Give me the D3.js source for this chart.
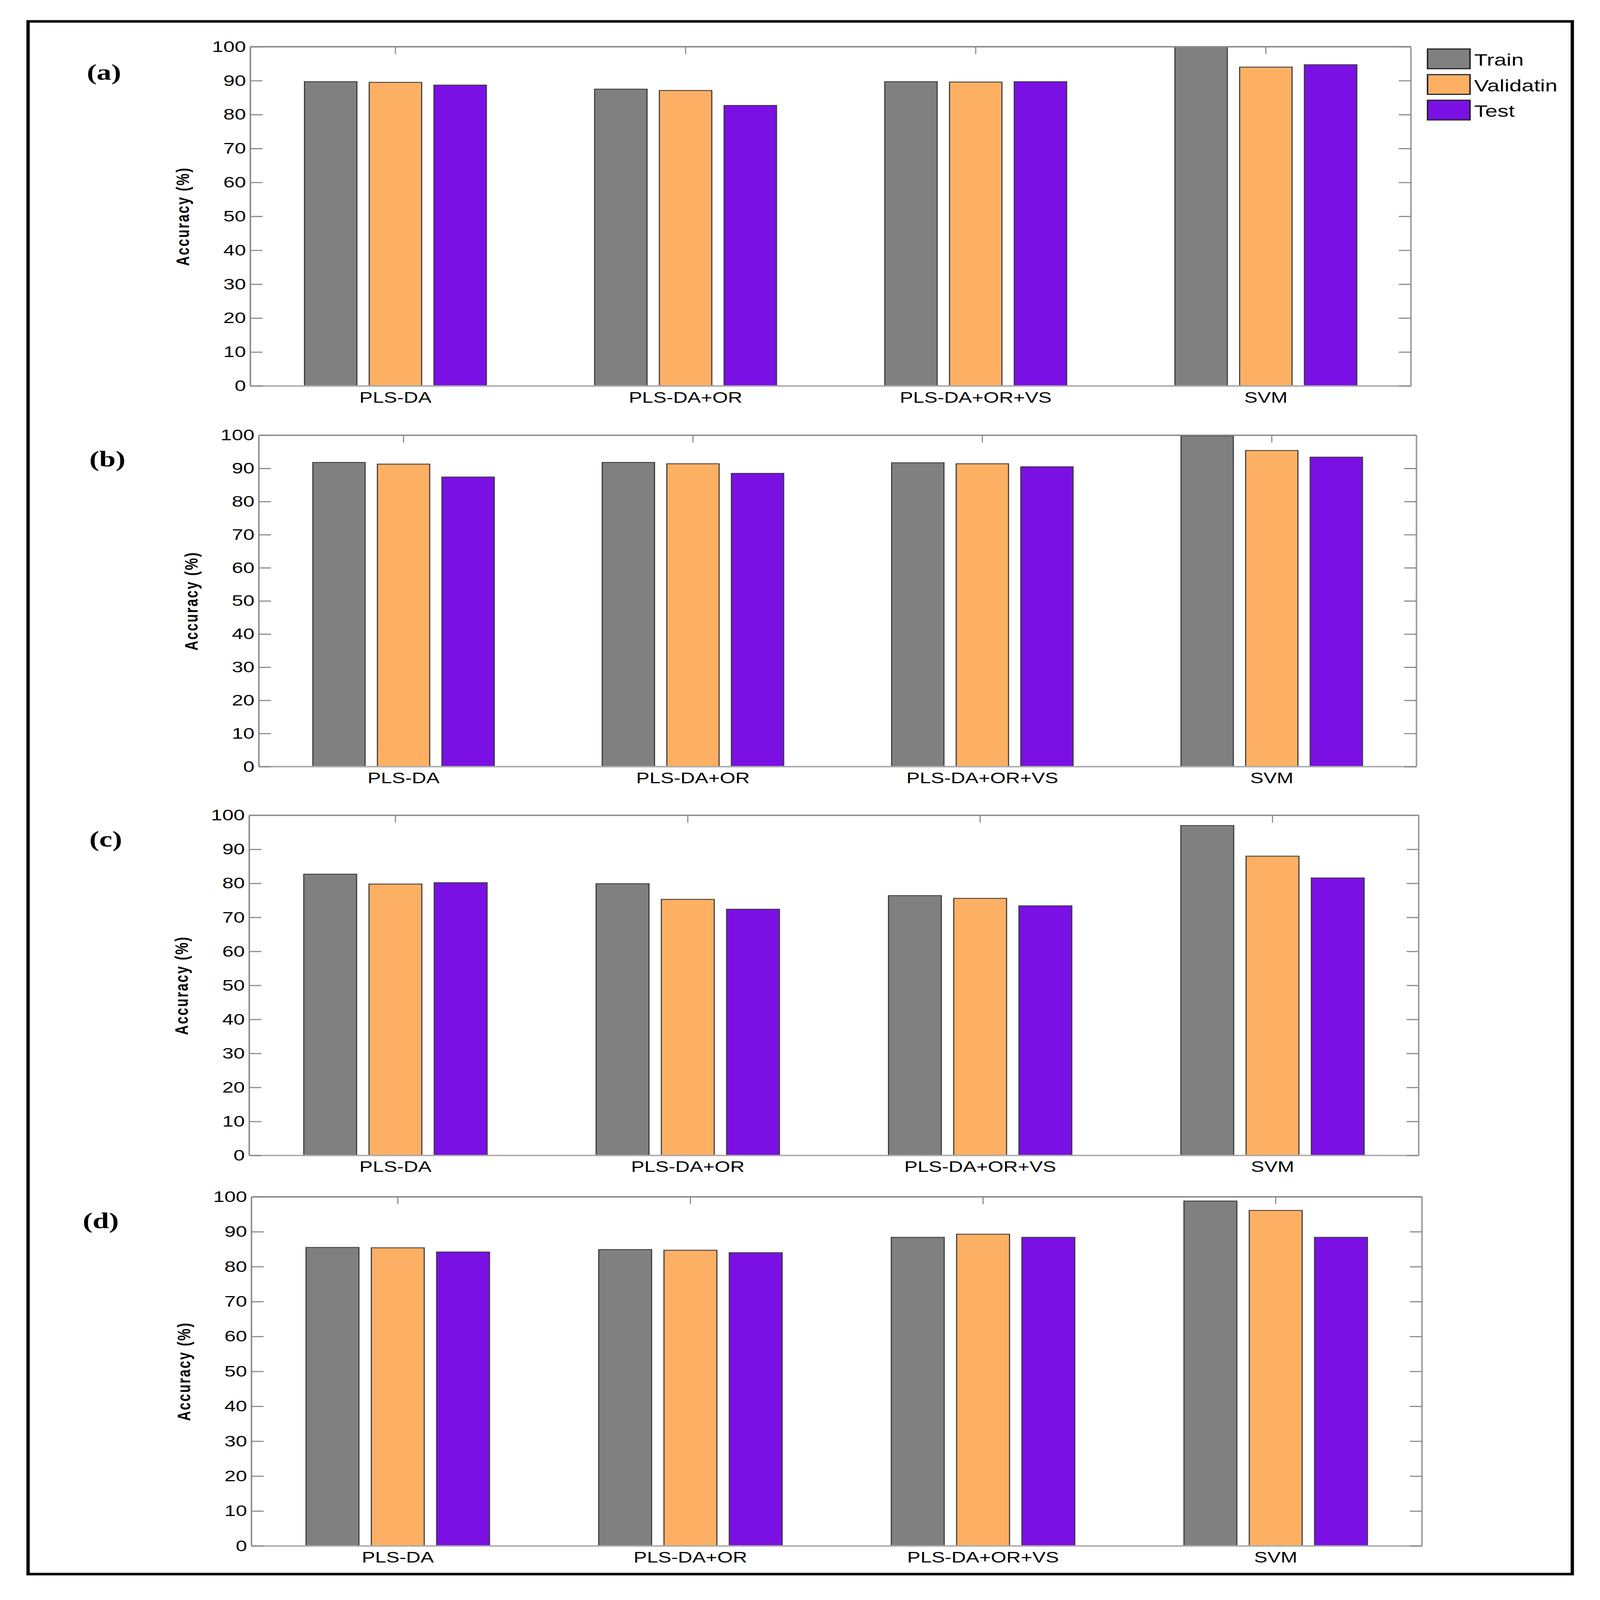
<!DOCTYPE html>
<html>
<head>
<meta charset="utf-8">
<script src="https://cdn.jsdelivr.net/npm/d3@7"></script>
<style>
  html, body { margin: 0; padding: 0; background: #fff; width: 100%; height: 100%; overflow: hidden; }
  #plot { width: 100vw; height: 100vh; }
  svg { display: block; }
</style>
</head>
<body>
<div id="plot"></div>
<script>
// data
const categories = ["PLS-DA", "PLS-DA+OR", "PLS-DA+OR+VS", "SVM"];
const seriesNames = ["Train", "Validatin", "Test"];
const yTicks = [0, 10, 20, 30, 40, 50, 60, 70, 80, 90, 100];

const trainA = [89.7, 87.5, 89.7, 100];
const validA = [89.5, 87.1, 89.6, 94.0];
const testA  = [88.7, 82.7, 89.7, 94.7];

const trainB = [91.8, 91.8, 91.7, 99.8];
const validB = [91.3, 91.4, 91.4, 95.4];
const testB  = [87.4, 88.5, 90.5, 93.4];

const trainC = [82.7, 79.9, 76.4, 97.0];
const validC = [79.8, 75.3, 75.6, 88.0];
const testC  = [80.2, 72.4, 73.4, 81.6];

const trainD = [85.5, 84.9, 88.4, 98.8];
const validD = [85.4, 84.7, 89.3, 96.1];
const testD  = [84.2, 84.0, 88.4, 88.4];

const panelLabels = ["(a)", "(b)", "(c)", "(d)"];

// drawing size (scaled to the window through the viewBox)
const w = 4333;
const h = 5683;
const colors = ["#808080", "#FDB064", "#7A10E3"];

// plot boxes of the four panels
const panels = [
  {left: 678, right: 3821, top: 166,  bottom: 1371, labX: 235, labDy: 117, data: [trainA, validA, testA]},
  {left: 701, right: 3836, top: 1546, bottom: 2723, labX: 242, labDy: 110, data: [trainB, validB, testB]},
  {left: 675, right: 3842, top: 2896, bottom: 4104, labX: 242, labDy: 110, data: [trainC, validC, testC]},
  {left: 681, right: 3851, top: 4251, bottom: 5491, labX: 224, labDy: 111, data: [trainD, validD, testD]}
];

const svg = d3.select("div#plot")
  .append("svg")
    .attr("viewBox", `0 0 ${w} ${h}`)
    .attr("preserveAspectRatio", "none")
    .attr("width", "100%")
    .attr("height", "100%");

svg.append("rect")
  .attr("width", w)
  .attr("height", h)
  .attr("fill", "white");

// outer frame
svg.append("rect")
  .attr("x", 76)
  .attr("y", 76)
  .attr("width", 4182)
  .attr("height", 5515)
  .attr("fill", "none")
  .attr("stroke", "black")
  .attr("stroke-width", 9);

panels.forEach(function (p, i) {
  const g = svg.append("g").attr("class", "panel");

  const xScale = d3.scaleBand()
    .domain(categories)
    .range([p.left, p.right])
    .padding(0);

  const bw = xScale.bandwidth();
  const xSub = d3.scaleBand()
    .domain(seriesNames)
    .range([-0.3135 * bw, 0.3135 * bw])
    .paddingInner(0.19);

  const yScale = d3.scaleLinear()
    .domain([0, 100])
    .range([p.bottom, p.top]);

  // bottom ticks (hidden behind bars like in the original)
  g.selectAll("line.btick")
    .data(categories)
    .enter()
    .append("line")
    .attr("x1", d => xScale(d) + bw / 2)
    .attr("x2", d => xScale(d) + bw / 2)
    .attr("y1", p.bottom)
    .attr("y2", p.bottom - 26)
    .attr("stroke", "#888")
    .attr("stroke-width", 3);

  // bars
  seriesNames.forEach(function (s, si) {
    g.selectAll("rect.s" + si)
      .data(p.data[si])
      .enter()
      .append("rect")
      .attr("class", "s" + si)
      .attr("x", (d, ci) => xScale(categories[ci]) + bw / 2 + xSub(s))
      .attr("y", d => yScale(d))
      .attr("width", xSub.bandwidth())
      .attr("height", d => p.bottom - yScale(d))
      .attr("fill", colors[si])
      .attr("stroke", "#3a3a3a")
      .attr("stroke-width", 3);
  });

  // box
  g.append("line")
    .attr("x1", p.left).attr("x2", p.right)
    .attr("y1", p.top).attr("y2", p.top)
    .attr("stroke", "#8a8a8a").attr("stroke-width", 5);
  g.append("line")
    .attr("x1", p.right).attr("x2", p.right)
    .attr("y1", p.top).attr("y2", p.bottom)
    .attr("stroke", "#999").attr("stroke-width", 4);
  g.append("line")
    .attr("x1", p.left).attr("x2", p.right)
    .attr("y1", p.bottom).attr("y2", p.bottom)
    .attr("stroke", "#aaa").attr("stroke-width", 5);
  g.append("line")
    .attr("x1", p.left).attr("x2", p.left)
    .attr("y1", p.top).attr("y2", p.bottom)
    .attr("stroke", "#8a8a8a").attr("stroke-width", 4);

  // top ticks at categories
  g.selectAll("line.ttick")
    .data(categories)
    .enter()
    .append("line")
    .attr("x1", d => xScale(d) + bw / 2)
    .attr("x2", d => xScale(d) + bw / 2)
    .attr("y1", p.top)
    .attr("y2", p.top + 26)
    .attr("stroke", "#888")
    .attr("stroke-width", 3);

  // left axis
  const yAxis = d3.axisLeft(yScale)
    .tickValues(yTicks)
    .tickSize(-33)
    .tickPadding(12);
  const ya = g.append("g")
    .attr("transform", `translate(${p.left}, 0)`)
    .call(yAxis);
  ya.select(".domain").remove();
  ya.selectAll(".tick line").attr("stroke", "#8a8a8a").attr("stroke-width", 4);
  ya.selectAll(".tick text")
    .attr("fill", "black")
    .attr("font-family", "Liberation Sans, Arial, sans-serif")
    .attr("font-size", 55);

  // right side ticks
  const yAxisR = d3.axisRight(yScale)
    .tickValues(yTicks)
    .tickSize(-33)
    .tickFormat("");
  const yr = g.append("g")
    .attr("transform", `translate(${p.right}, 0)`)
    .call(yAxisR);
  yr.select(".domain").remove();
  yr.selectAll(".tick line").attr("stroke", "#8a8a8a").attr("stroke-width", 4);

  // category labels
  g.selectAll("text.cat")
    .data(categories)
    .enter()
    .append("text")
    .attr("class", "cat")
    .attr("x", d => xScale(d) + bw / 2)
    .attr("y", p.bottom + 59)
    .attr("text-anchor", "middle")
    .attr("font-family", "Liberation Sans, Arial, sans-serif")
    .attr("font-size", 54)
    .text(d => d);

  // y label
  g.append("text")
    .attr("transform", `translate(${p.left - 166}, ${(p.top + p.bottom) / 2}) rotate(-90)`)
    .attr("text-anchor", "middle")
    .attr("font-family", "Liberation Sans, Arial, sans-serif")
    .attr("font-weight", "bold")
    .attr("font-size", 48)
    .attr("letter-spacing", 4)
    .text("Accuracy (%)");

  // panel letter
  g.append("text")
    .attr("x", p.labX)
    .attr("y", p.top + p.labDy)
    .attr("font-family", "Liberation Serif, Times New Roman, serif")
    .attr("font-weight", "bold")
    .attr("font-size", 80)
    .text(panelLabels[i]);
});

// legend
const legend = svg.append("g").attr("id", "legend");
legend.selectAll("rect")
  .data(seriesNames)
  .enter()
  .append("rect")
  .attr("x", 3866)
  .attr("y", (d, i) => 174 + i * 91)
  .attr("width", 115)
  .attr("height", 70)
  .attr("fill", (d, i) => colors[i])
  .attr("stroke", "#222")
  .attr("stroke-width", 4);
legend.selectAll("text")
  .data(seriesNames)
  .enter()
  .append("text")
  .attr("x", 3992)
  .attr("y", (d, i) => 233 + i * 91)
  .attr("font-family", "Liberation Sans, Arial, sans-serif")
  .attr("font-size", 60)
  .text(d => d);
</script>
</body>
</html>
